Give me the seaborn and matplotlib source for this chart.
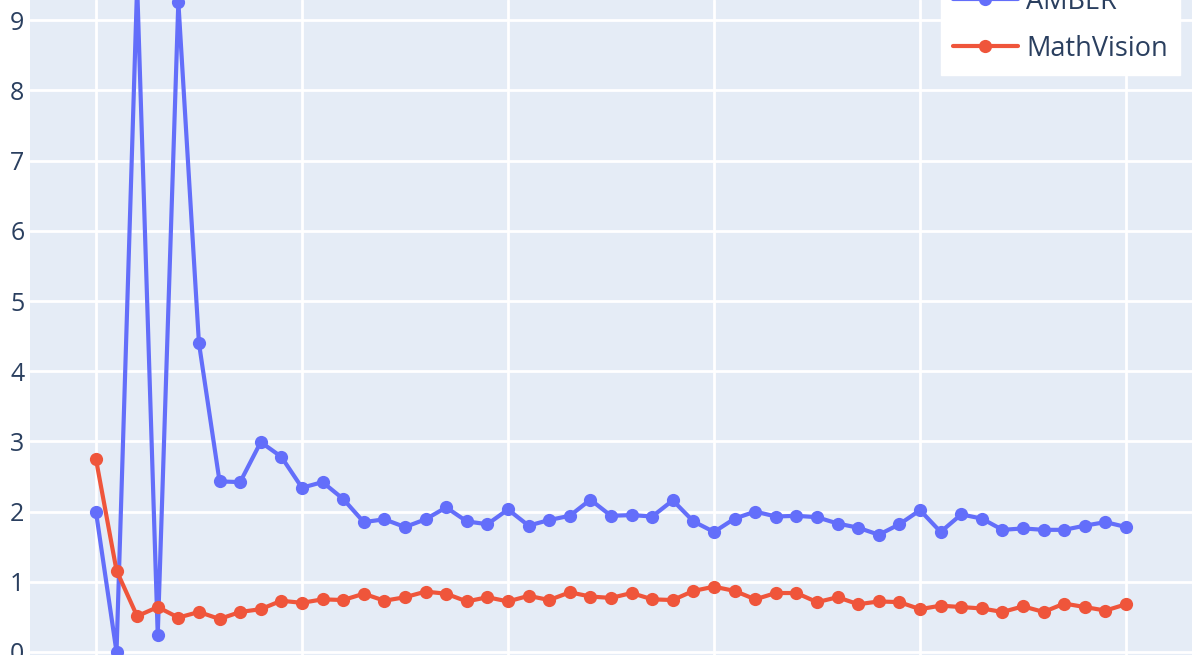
import numpy as np
import pandas as pd
import matplotlib
matplotlib.use("Agg")
import matplotlib.pyplot as plt
import seaborn as sns

steps = list(range(51))
amber = [2.00, 0.00, 9.50, 0.24, 9.26, 4.40, 2.43, 2.42, 2.99, 2.78,
         2.34, 2.42, 2.18, 1.85, 1.89, 1.78, 1.89, 2.06, 1.86, 1.82,
         2.03, 1.80, 1.88, 1.94, 2.17, 1.94, 1.95, 1.93, 2.16, 1.86,
         1.71, 1.90, 2.00, 1.93, 1.94, 1.92, 1.83, 1.77, 1.67, 1.82,
         2.02, 1.71, 1.96, 1.90, 1.74, 1.76, 1.74, 1.74, 1.80, 1.85,
         1.78]
mathvision = [2.75, 1.16, 0.51, 0.64, 0.49, 0.57, 0.47, 0.57, 0.61, 0.73,
              0.70, 0.75, 0.74, 0.83, 0.73, 0.78, 0.86, 0.83, 0.72, 0.78,
              0.72, 0.80, 0.74, 0.85, 0.79, 0.77, 0.84, 0.75, 0.74, 0.87,
              0.93, 0.87, 0.75, 0.84, 0.84, 0.71, 0.78, 0.68, 0.72, 0.71,
              0.61, 0.66, 0.64, 0.62, 0.57, 0.65, 0.57, 0.69, 0.64, 0.59,
              0.68]
series_names = ["AMBER", "MathVision"]
y_ticks = list(range(10))

df = pd.DataFrame({
    "step": steps * 2,
    "value": amber + mathvision,
    "dataset": [series_names[0]] * len(steps) + [series_names[1]] * len(steps),
})

sns.set_theme(style="darkgrid")
plt.rcParams["font.family"] = ["Open Sans", "DejaVu Sans"]

W, H = 1196, 655
fig = plt.figure(figsize=(W / 100, H / 100), dpi=100)
ax = fig.add_axes([30 / W, 0, (1192 - 30) / W, 1])
ax.set_facecolor("#E5ECF6")

palette = {"AMBER": "#636EFA", "MathVision": "#EF553B"}
sns.lineplot(data=df, x="step", y="value", hue="dataset", hue_order=series_names,
             palette=palette, marker="o", markersize=9.5, markeredgewidth=0,
             linewidth=3.0, ax=ax)

ax.set_xlim(-3.2, 53.2)
ax.set_ylim(-0.043, 9.288)
ax.set_xticks([0, 10, 20, 30, 40, 50])
ax.set_xticklabels([])
ax.set_yticks(y_ticks)
ax.set_yticklabels([str(t) for t in y_ticks])
ax.tick_params(axis="y", labelsize=18, labelcolor="#2a3f5f", pad=4, length=0)
ax.tick_params(axis="x", length=0)
ax.grid(True, color="white", linewidth=2)
ax.set_xlabel("")
ax.set_ylabel("")
for s in ax.spines.values():
    s.set_visible(False)

leg = ax.legend(loc="lower right", bbox_to_anchor=(1180 / W, 1 - 75 / H),
                bbox_transform=fig.transFigure, frameon=True, fancybox=False,
                fontsize=19.5, labelspacing=0.7, borderpad=0.45,
                handlelength=2.4, handletextpad=0.3, borderaxespad=0, title=None)
leg.get_frame().set_facecolor("white")
leg.get_frame().set_edgecolor("white")
leg.get_frame().set_alpha(1)
for t in leg.get_texts():
    t.set_color("#2a3f5f")

fig.savefig("out.png", dpi=100)
